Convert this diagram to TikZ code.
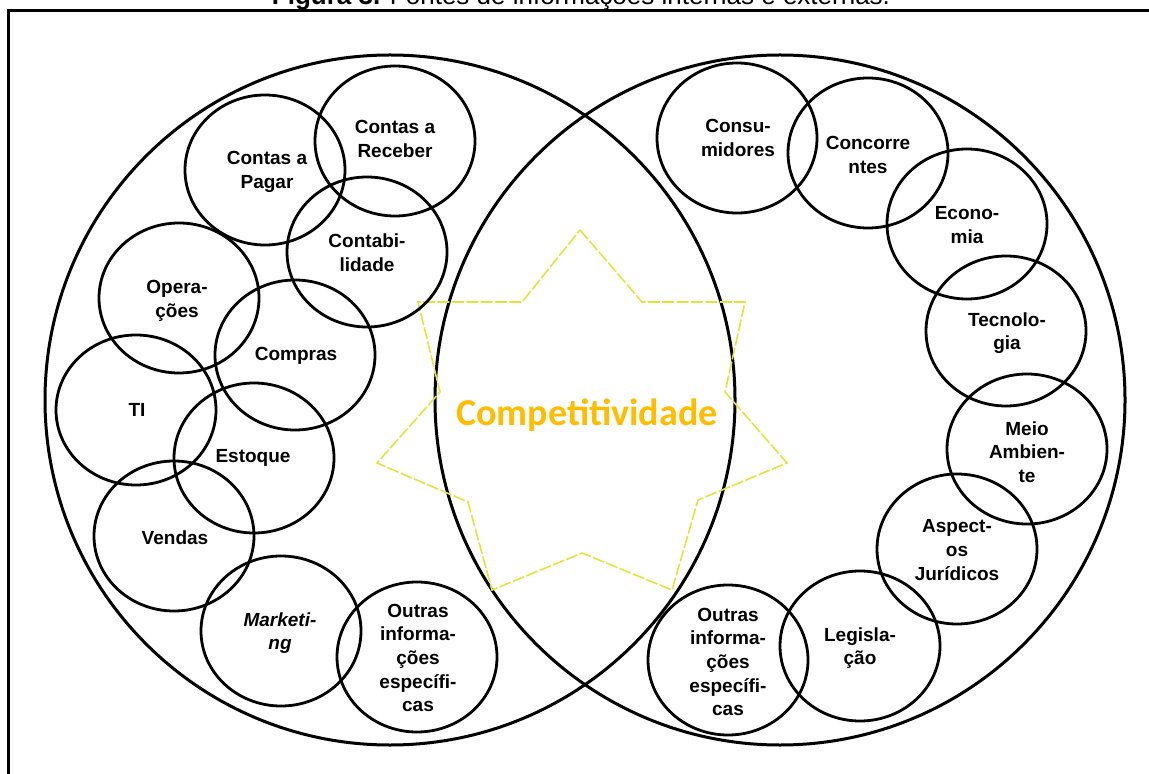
\documentclass[tikz,border=0pt]{standalone}
\usepackage{fontspec}
\setmainfont{Liberation Sans}
\newfontfamily\calib{Carlito}
\usetikzlibrary{shapes.geometric}
\definecolor{stary}{HTML}{E2E43C}
\definecolor{compo}{HTML}{FFBC00}
\tikzset{
  bubble/.style={draw=black, line width=1.4pt, ellipse, inner sep=0pt,
    minimum width=80pt, minimum height=75pt},
  big/.style={draw=black, line width=1.5pt, circle, inner sep=0pt, minimum size=345pt},
  lbl/.style={inner sep=0pt, align=center, text=black,
    font=\bfseries\fontsize{9.5}{11.8}\selectfont},
  frameline/.style={line width=1.5pt, black},
  starline/.style={draw=stary, line width=0.8pt, dash pattern=on 6pt off 1.2pt, line join=miter}
}
\begin{document}
\begin{tikzpicture}[x=0.5pt, y=-0.5pt]
\useasboundingbox (0,0) rectangle (1149,774);
\begin{scope}
\clip (0,0) rectangle (1149,774);
\node[anchor=base, inner sep=0pt, font=\fontsize{13}{15}\selectfont] (title) at (581,5)
  {\textbf{Figura 3.} Fontes de informações internas e externas.};
\draw[frameline] (8,790) -- (8,11) -- (1160,11);
\end{scope}

% big circles
\node[big] (inner) at (390,400) {};
\node[big] (outer) at (780,400) {};

% star
\draw[starline] (580,230) -- (642,302) -- (745,302) -- (725,392) -- (787,463)
  -- (698,500) -- (672,590) -- (582,553) -- (492,590) -- (468,502)
  -- (377,463) -- (440,392) -- (418,302) -- (522,302) -- cycle;

\node[anchor=base, inner sep=0pt, text=compo, font=\calib\bfseries\fontsize{19}{22}\selectfont]
  (comp) at (587,425) {Competitividade};

% internal sources
\node[bubble] (pagar) at (265,170) {};
\node[bubble] (receber) at (395,141) {};
\node[bubble] (contab) at (367,252) {};
\node[bubble] (oper) at (179,298) {};
\node[bubble] (compras) at (295,355) {};
\node[bubble] (ti) at (136,410) {};
\node[bubble] (estoque) at (254,458) {};
\node[bubble] (vendas) at (174,536) {};
\node[bubble] (mkt) at (281,631) {};
\node[bubble] (outrasL) at (417,657) {};

\node[lbl] (lpagar) at (267,172) {Contas a\\Pagar};
\node[lbl] (lreceber) at (395,139) {Contas a\\Receber};
\node[lbl] (lcontab) at (367,253) {Contabi-\\lidade};
\node[lbl] (loper) at (177,301) {Opera-\\ções};
\node[lbl] (lcompras) at (296,356) {Compras};
\node[lbl] (lti) at (137,410) {TI};
\node[lbl] (lestoque) at (253,458) {Estoque};
\node[lbl] (lvendas) at (175,538) {Vendas};
\node[lbl, font=\bfseries\itshape\fontsize{9.5}{11.8}\selectfont] (lmkt) at (280,633) {Marketi-\\ng};
\node[lbl] (loutrasL) at (418,658) {Outras\\informa-\\ções\\específi-\\cas};

% external sources
\node[bubble] (cons) at (737,138) {};
\node[bubble] (conc) at (868,153) {};
\node[bubble] (econ) at (967,224) {};
\node[bubble] (tecn) at (1006,331) {};
\node[bubble] (meio) at (1027,449) {};
\node[bubble] (asp) at (957,549) {};
\node[bubble] (legis) at (860,646) {};
\node[bubble] (outrasR) at (728,660) {};

\node[lbl] (lcons) at (738,138) {Consu-\\midores};
\node[lbl] (lconc) at (868,155) {Concorre\\ntes};
\node[lbl] (lecon) at (967,225) {Econo-\\mia};
\node[lbl] (ltecn) at (1007,333) {Tecnolo-\\gia};
\node[lbl] (lmeio) at (1027,452) {Meio\\Ambien-\\te};
\node[lbl] (lasp) at (957,550) {Aspect-\\os\\Jurídicos};
\node[lbl] (llegis) at (860,648) {Legisla-\\ção};
\node[lbl] (loutrasR) at (728,662) {Outras\\informa-\\ções\\específi-\\cas};
\end{tikzpicture}
\end{document}
